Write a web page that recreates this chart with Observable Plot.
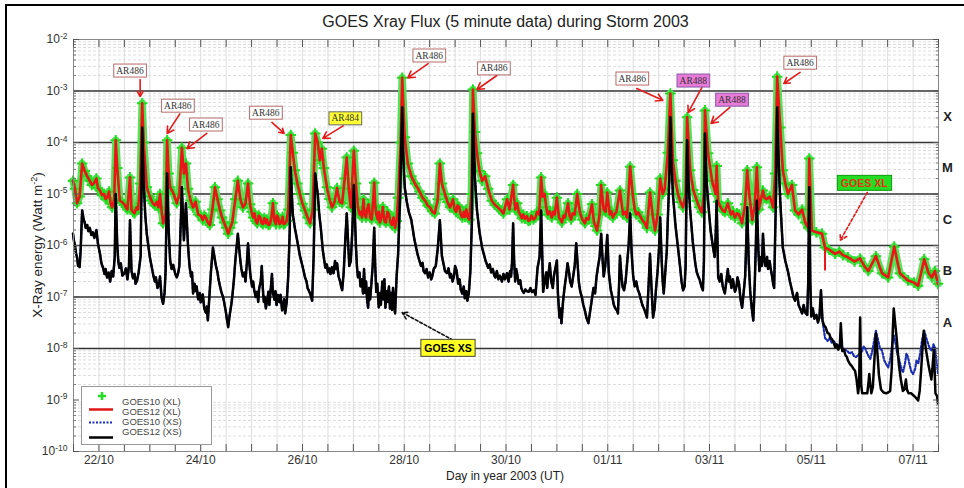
<!DOCTYPE html>
<html><head><meta charset="utf-8">
<script src="https://cdn.jsdelivr.net/npm/d3@7"></script>
<script src="https://cdn.jsdelivr.net/npm/@observablehq/plot@0.6"></script>
<style>
body{margin:0;background:#fff;font-family:"Liberation Sans",Arial,sans-serif;}
#wrap{position:relative;width:964px;height:488px;overflow:hidden;}
#outer{position:absolute;left:5px;top:4px;width:1000px;height:600px;border-left:2px solid #000;border-top:2px solid #000;pointer-events:none;}
#title{height:22px;padding-top:12px;line-height:20px;margin-left:73px;width:865px;text-align:center;font-size:16px;color:#222;}
#ylabel{position:absolute;left:37px;top:245px;transform:translate(-50%,-50%) rotate(-90deg);white-space:nowrap;font-size:13.5px;color:#222;}
#ylabel sup{font-size:9px;}
#xlabel{position:absolute;left:505px;top:476px;transform:translate(-50%,-50%);white-space:nowrap;font-size:12px;color:#222;font-family:"Liberation Sans Narrow","Liberation Sans",Arial,sans-serif;}
#legend{position:absolute;left:81px;top:386px;width:129px;height:57px;border:1px solid #999;background:#fff;}
#legend text{font-family:"Liberation Sans Narrow","Liberation Sans",Arial,sans-serif;font-size:9.5px;fill:#444;}
</style></head>
<body>
<div id="wrap">
  <div id="outer"></div>
  <div id="title">GOES Xray Flux (5 minute data) during Storm 2003</div>
  <div id="chart"></div>
  <div id="ylabel">X-Ray energy (Watt m<sup>-2</sup>)</div>
  <div id="xlabel">Day in year 2003 (UT)</div>
  <div id="legend"><svg width="129" height="57">
    <path d="M20,5v8M16,9h8" stroke="#22dd22" stroke-width="2.5"/>
    <line x1="7" x2="31" y1="22.5" y2="22.5" stroke="#e11616" stroke-width="2.5"/>
    <line x1="7" x2="31" y1="35.5" y2="35.5" stroke="#1a2db0" stroke-width="2" stroke-dasharray="2,1.5"/>
    <line x1="7" x2="31" y1="50.5" y2="50.5" stroke="#000" stroke-width="2.5"/>
    <text x="40" y="18">GOES10 (XL)</text>
    <text x="40" y="28">GOES12 (XL)</text>
    <text x="40" y="38">GOES10 (XS)</text>
    <text x="40" y="48">GOES12 (XS)</text>
  </svg></div>
</div>
<script>
// ---- data: [day of Oct 2003 (Nov = 32+), flux W/m^2] ----
const goesXL = [[21.49,1.8e-5],[21.53,1.26e-5],[21.57,6.6e-6],[21.62,8.9e-6],[21.67,3.9e-5],[21.72,2.8e-5],[21.77,2.2e-5],[21.82,1.8e-5],[21.86,1.5e-5],[21.90,1.6e-5],[21.95,2.0e-5],[21.98,1.3e-5],[22.02,1.17e-5],[22.06,9.5e-6],[22.10,1.0e-5],[22.13,8.0e-6],[22.16,8.5e-6],[22.20,1.12e-5],[22.23,6.5e-6],[22.26,5.5e-6],[22.30,7.9e-6],[22.33,1.1e-4],[22.36,3.2e-5],[22.41,7.4e-6],[22.45,7.0e-6],[22.50,6.3e-6],[22.53,5.5e-6],[22.56,5.0e-6],[22.61,2.1e-5],[22.64,5.0e-6],[22.67,4.5e-6],[22.70,4.2e-6],[22.74,5.5e-6],[22.77,5.0e-6],[22.81,1.6e-5],[22.85,5.8e-4],[22.88,1.0e-4],[22.94,1.35e-5],[23.00,8.9e-6],[23.03,7.5e-6],[23.06,6.6e-6],[23.10,6.0e-6],[23.14,7.0e-6],[23.17,5.5e-6],[23.20,1.0e-5],[23.23,5.0e-6],[23.26,2.7e-6],[23.31,4.0e-6],[23.34,1.1e-4],[23.37,2.5e-5],[23.40,1.35e-5],[23.47,1.0e-5],[23.53,6.6e-6],[23.58,1.0e-5],[23.63,7.9e-5],[23.67,2.5e-5],[23.71,3.9e-5],[23.75,1.26e-5],[23.80,7.5e-6],[23.85,5.5e-6],[23.90,7.1e-6],[23.95,4.0e-6],[24.00,3.8e-6],[24.04,3.1e-6],[24.07,3.8e-6],[24.10,3.5e-6],[24.14,2.8e-6],[24.18,2.5e-6],[24.23,5.0e-6],[24.28,1.35e-5],[24.33,7.9e-6],[24.38,4.8e-6],[24.42,3.5e-6],[24.46,2.8e-6],[24.50,2.2e-6],[24.54,1.7e-6],[24.58,2.2e-6],[24.62,2.8e-6],[24.68,7.9e-6],[24.73,1.8e-5],[24.78,7.9e-6],[24.83,5.5e-6],[24.88,6.5e-6],[24.93,1.6e-5],[24.97,6.3e-6],[25.00,4.5e-6],[25.03,3.5e-6],[25.06,4.2e-6],[25.08,3.0e-6],[25.11,2.7e-6],[25.14,3.8e-6],[25.17,3.5e-6],[25.19,2.8e-6],[25.22,2.6e-6],[25.25,3.4e-6],[25.28,2.7e-6],[25.30,3.2e-6],[25.33,2.5e-6],[25.36,2.6e-6],[25.39,3.5e-6],[25.42,6.6e-6],[25.45,3.0e-6],[25.48,2.6e-6],[25.50,3.8e-6],[25.52,3.5e-6],[25.55,2.6e-6],[25.58,2.8e-6],[25.61,3.6e-6],[25.63,2.6e-6],[25.66,2.7e-6],[25.69,3.0e-6],[25.72,5.0e-6],[25.77,1.4e-4],[25.81,6.3e-5],[25.85,2.9e-5],[25.90,1.6e-5],[25.95,1.0e-5],[26.00,6.5e-6],[26.05,4.8e-6],[26.10,3.5e-6],[26.15,2.7e-6],[26.20,5.0e-6],[26.25,1.5e-4],[26.30,1.0e-4],[26.34,4.5e-5],[26.38,7.6e-5],[26.42,3.2e-5],[26.48,1.35e-5],[26.53,8.0e-6],[26.58,5.5e-6],[26.63,7.0e-6],[26.68,1.3e-5],[26.73,7.1e-6],[26.78,6.6e-6],[26.83,2.0e-5],[26.87,5.1e-5],[26.91,1.26e-5],[26.95,5.5e-6],[27.01,6.9e-5],[27.05,1.6e-5],[27.09,5.5e-6],[27.12,4.0e-6],[27.15,4.5e-6],[27.17,3.5e-6],[27.20,7.9e-6],[27.22,4.0e-6],[27.25,3.5e-6],[27.27,5.0e-6],[27.30,6.3e-6],[27.33,3.5e-6],[27.36,3.2e-6],[27.38,5.5e-6],[27.41,1.66e-5],[27.43,6.0e-6],[27.45,4.0e-6],[27.48,3.2e-6],[27.50,4.5e-6],[27.52,2.8e-6],[27.55,3.5e-6],[27.58,5.6e-6],[27.61,3.0e-6],[27.64,2.8e-6],[27.67,4.5e-6],[27.70,4.0e-6],[27.73,2.8e-6],[27.76,2.5e-6],[27.79,3.5e-6],[27.82,2.2e-6],[27.85,3.0e-6],[27.88,8.5e-6],[27.93,1.0e-4],[27.96,1.8e-3],[28.01,1.26e-4],[28.07,3.9e-5],[28.14,2.2e-5],[28.21,1.6e-5],[28.30,1.12e-5],[28.36,8.5e-6],[28.41,7.4e-6],[28.46,6.0e-6],[28.50,5.6e-6],[28.55,4.6e-6],[28.60,4.2e-6],[28.66,7.9e-6],[28.70,3.9e-5],[28.74,1.6e-5],[28.80,1.0e-5],[28.85,7.0e-6],[28.90,5.5e-6],[28.93,6.5e-6],[28.96,7.9e-6],[28.99,5.0e-6],[29.02,4.5e-6],[29.05,6.0e-6],[29.08,5.6e-6],[29.11,4.0e-6],[29.14,3.5e-6],[29.17,4.5e-6],[29.19,3.6e-6],[29.22,5.0e-6],[29.25,3.5e-6],[29.28,3.2e-6],[29.32,1.0e-5],[29.35,1.07e-3],[29.39,1.6e-4],[29.43,6.2e-5],[29.48,2.8e-5],[29.53,1.8e-5],[29.59,2.2e-5],[29.65,1.26e-5],[29.72,7.4e-6],[29.78,6.2e-6],[29.84,5.5e-6],[29.90,4.8e-6],[29.95,4.2e-6],[30.02,7.9e-6],[30.07,5.0e-6],[30.14,1.5e-5],[30.18,5.0e-6],[30.22,6.6e-6],[30.25,4.5e-6],[30.28,4.0e-6],[30.31,3.4e-6],[30.34,4.0e-6],[30.37,3.3e-6],[30.41,3.7e-6],[30.44,3.0e-6],[30.47,3.1e-6],[30.50,3.8e-6],[30.54,3.2e-6],[30.58,3.5e-6],[30.61,4.5e-6],[30.65,4.0e-6],[30.69,2.1e-5],[30.72,8.9e-6],[30.76,1.0e-5],[30.79,5.5e-6],[30.82,4.0e-6],[30.86,4.6e-6],[30.90,3.5e-6],[30.93,4.5e-6],[30.96,4.0e-6],[31.00,8.5e-6],[31.04,3.5e-6],[31.07,3.2e-6],[31.10,2.8e-6],[31.13,3.8e-6],[31.16,3.5e-6],[31.22,6.6e-6],[31.25,3.8e-6],[31.28,3.2e-6],[31.31,4.2e-6],[31.35,4.0e-6],[31.40,1.0e-5],[31.45,4.5e-6],[31.50,3.2e-6],[31.55,2.7e-6],[31.58,3.4e-6],[31.62,3.2e-6],[31.69,6.3e-6],[31.73,2.8e-6],[31.76,2.4e-6],[31.79,1.95e-6],[31.84,4.0e-6],[31.87,1.5e-5],[31.92,5.0e-6],[31.96,4.5e-6],[31.99,1.07e-5],[32.04,4.0e-6],[32.07,4.6e-6],[32.10,3.5e-6],[32.13,4.0e-6],[32.17,4.5e-6],[32.24,1.17e-5],[32.30,4.0e-6],[32.34,4.5e-6],[32.38,3.5e-6],[32.44,3.4e-5],[32.49,1.0e-5],[32.53,5.0e-6],[32.56,4.0e-6],[32.60,4.4e-6],[32.65,3.5e-6],[32.69,3.0e-6],[32.72,2.8e-6],[32.77,2.2e-6],[32.83,1.07e-5],[32.88,4.0e-6],[32.93,1.95e-6],[32.98,4.0e-6],[33.03,2.0e-5],[33.08,1.0e-5],[33.12,1.26e-5],[33.18,6.3e-5],[33.23,8.9e-4],[33.28,4.5e-5],[33.33,1.8e-5],[33.38,1.0e-5],[33.43,7.0e-6],[33.48,5.5e-6],[33.53,1.0e-5],[33.56,3.1e-4],[33.62,2.9e-5],[33.68,1.2e-5],[33.75,7.4e-6],[33.80,5.5e-6],[33.85,4.4e-6],[33.89,1.0e-5],[33.91,4.2e-4],[33.97,6.2e-5],[34.05,1.8e-5],[34.12,1.0e-5],[34.14,3.5e-5],[34.17,7.1e-6],[34.22,5.5e-6],[34.26,4.8e-6],[34.30,4.5e-6],[34.36,6.6e-6],[34.42,4.0e-6],[34.46,4.6e-6],[34.50,3.5e-6],[34.54,4.2e-6],[34.58,4.0e-6],[34.64,2.7e-6],[34.70,6.3e-6],[34.74,2.9e-5],[34.78,1.0e-5],[34.84,3.1e-6],[34.89,6.3e-6],[34.93,3.3e-5],[34.97,5.0e-6],[35.01,8.0e-6],[35.05,1.17e-5],[35.08,8.5e-6],[35.12,7.9e-6],[35.18,8.9e-6],[35.22,7.0e-6],[35.25,5.5e-6],[35.29,2.5e-5],[35.33,1.9e-3],[35.39,1.95e-4],[35.44,2.9e-5],[35.49,1.6e-5],[35.54,1.0e-5],[35.62,1.5e-5],[35.68,4.8e-6],[35.75,4.0e-6],[35.82,5.0e-6],[35.88,2.8e-6],[35.94,2.2e-6],[35.96,4.9e-5],[36.01,1.95e-6],[36.10,1.8e-6],[36.21,1.7e-6],[36.27,9.1e-7],[36.35,8.3e-7],[36.47,6.9e-7],[36.55,7.6e-7],[36.62,6.5e-7],[36.72,5.9e-7],[36.85,4.9e-7],[36.96,5.6e-7],[37.04,4.0e-7],[37.12,3.2e-7],[37.27,6.2e-7],[37.39,2.9e-7],[37.51,2.4e-7],[37.63,9.5e-7],[37.74,2.9e-7],[37.90,2.1e-7],[38.02,1.9e-7],[38.10,1.65e-7],[38.22,5.4e-7],[38.30,3.0e-7],[38.37,2.4e-7],[38.43,3.2e-7],[38.49,1.8e-7]];

const goes12XLDips = [[36.27,9.1e-7,3.2e-7]];

const goesXS = [[21.49,1.7e-6],[21.51,1.2e-6],[21.53,1.0e-6],[21.55,7.0e-7],[21.57,5.9e-7],[21.59,4.0e-7],[21.60,4.5e-7],[21.62,3.8e-7],[21.64,7.9e-7],[21.67,4.8e-6],[21.70,3.2e-6],[21.72,2.8e-6],[21.74,2.2e-6],[21.77,2.5e-6],[21.79,1.9e-6],[21.82,2.2e-6],[21.85,1.6e-6],[21.88,1.8e-6],[21.91,1.4e-6],[21.95,2.0e-6],[21.98,1.1e-6],[22.02,6.9e-7],[22.05,4.5e-7],[22.08,3.7e-7],[22.11,2.8e-7],[22.13,3.5e-7],[22.16,2.4e-7],[22.19,3.0e-7],[22.22,2.0e-7],[22.25,3.2e-7],[22.28,2.5e-7],[22.31,6.0e-7],[22.33,1.0e-5],[22.36,1.0e-6],[22.38,5.0e-7],[22.40,3.7e-7],[22.43,4.5e-7],[22.46,2.6e-7],[22.50,2.9e-7],[22.53,3.6e-7],[22.56,2.2e-7],[22.59,4.0e-7],[22.61,3.1e-6],[22.64,3.2e-7],[22.67,2.3e-7],[22.70,2.8e-7],[22.72,1.8e-7],[22.75,2.1e-7],[22.78,3.0e-7],[22.82,6.3e-7],[22.85,1.95e-4],[22.88,1.6e-5],[22.91,4.0e-6],[22.94,1.7e-6],[22.97,1.0e-6],[23.00,6.0e-7],[23.04,3.7e-7],[23.07,2.6e-7],[23.10,2.0e-7],[23.12,2.4e-7],[23.15,1.5e-7],[23.18,1.7e-7],[23.20,2.5e-7],[23.23,1.0e-7],[23.26,7.4e-8],[23.29,1.2e-7],[23.31,3.2e-7],[23.34,2.5e-5],[23.37,2.0e-6],[23.40,5.0e-7],[23.43,3.5e-7],[23.46,4.2e-7],[23.50,2.8e-7],[23.53,2.4e-7],[23.56,3.0e-7],[23.58,4.0e-7],[23.63,1.35e-5],[23.67,1.26e-6],[23.71,6.6e-6],[23.75,1.0e-6],[23.78,4.0e-7],[23.81,2.5e-7],[23.83,3.0e-7],[23.85,1.17e-7],[23.88,1.8e-7],[23.90,1.3e-7],[23.92,1.6e-7],[23.95,9.0e-8],[23.98,1.2e-7],[24.00,7.9e-8],[24.02,1.0e-7],[24.04,1.12e-7],[24.07,6.0e-8],[24.10,5.0e-8],[24.12,6.5e-8],[24.14,3.5e-8],[24.17,1.0e-7],[24.20,3.0e-7],[24.24,9.1e-7],[24.27,6.0e-7],[24.30,4.0e-7],[24.33,3.0e-7],[24.35,2.2e-7],[24.38,1.6e-7],[24.41,1.2e-7],[24.44,1.0e-7],[24.46,7.9e-8],[24.49,5.5e-8],[24.51,4.0e-8],[24.54,2.6e-8],[24.57,4.5e-8],[24.60,7.0e-8],[24.62,1.0e-7],[24.65,2.0e-7],[24.68,5.0e-7],[24.73,1.7e-6],[24.76,8.0e-7],[24.78,5.0e-7],[24.80,3.5e-7],[24.83,2.5e-7],[24.86,3.0e-7],[24.88,2.0e-7],[24.91,5.0e-7],[24.93,1.1e-6],[24.96,4.0e-7],[24.98,2.5e-7],[25.01,1.6e-7],[25.03,2.0e-7],[25.05,1.4e-7],[25.08,1.0e-7],[25.11,1.26e-7],[25.13,8.0e-8],[25.15,1.5e-7],[25.18,2.0e-7],[25.20,4.0e-7],[25.22,1.5e-7],[25.24,8.0e-8],[25.26,1.0e-7],[25.28,6.0e-8],[25.31,9.0e-8],[25.33,1.26e-7],[25.35,7.0e-8],[25.38,1.6e-7],[25.40,2.8e-7],[25.42,1.2e-7],[25.45,8.9e-8],[25.47,1.3e-7],[25.49,7.0e-8],[25.52,1.1e-7],[25.55,7.9e-8],[25.57,1.1e-7],[25.60,5.5e-8],[25.62,6.2e-8],[25.64,9.0e-8],[25.66,4.8e-8],[25.69,8.0e-8],[25.72,2.5e-7],[25.75,2.0e-6],[25.77,3.3e-5],[25.79,1.0e-5],[25.81,4.0e-6],[25.85,2.2e-6],[25.90,1.2e-6],[25.95,6.3e-7],[26.00,4.0e-7],[26.05,2.4e-7],[26.08,2.0e-7],[26.10,1.5e-7],[26.13,1.3e-7],[26.15,1.17e-7],[26.19,8.5e-8],[26.22,6.3e-7],[26.25,2.5e-5],[26.30,1.0e-5],[26.33,4.0e-6],[26.36,2.2e-6],[26.40,8.0e-7],[26.43,5.0e-7],[26.45,3.7e-7],[26.48,4.3e-7],[26.50,3.0e-7],[26.53,3.6e-7],[26.55,2.8e-7],[26.58,3.8e-7],[26.61,2.9e-7],[26.64,5.0e-7],[26.66,3.5e-7],[26.68,4.5e-7],[26.71,2.5e-7],[26.74,2.0e-7],[26.76,1.6e-7],[26.78,1.35e-7],[26.81,3.0e-7],[26.84,1.2e-6],[26.87,4.2e-6],[26.90,1.0e-6],[26.92,4.0e-7],[26.95,5.0e-7],[26.98,2.0e-6],[27.01,1.5e-5],[27.05,1.0e-6],[27.07,4.0e-7],[27.09,2.4e-7],[27.12,3.0e-7],[27.14,1.6e-7],[27.17,2.2e-7],[27.19,1.17e-7],[27.21,3.5e-7],[27.23,1.2e-7],[27.25,2.0e-7],[27.27,9.0e-8],[27.29,6.2e-8],[27.31,1.5e-7],[27.33,9.0e-8],[27.35,1.6e-7],[27.38,4.0e-7],[27.41,2.2e-6],[27.43,4.0e-7],[27.45,1.26e-7],[27.47,1.8e-7],[27.50,6.3e-8],[27.52,1.2e-7],[27.54,7.0e-8],[27.57,2.0e-7],[27.59,9.0e-8],[27.61,2.2e-7],[27.63,6.2e-8],[27.65,1.3e-7],[27.67,8.0e-8],[27.70,1.6e-7],[27.72,6.0e-8],[27.74,1.2e-7],[27.76,5.6e-8],[27.78,1.5e-7],[27.80,7.0e-8],[27.82,4.8e-8],[27.85,2.5e-7],[27.88,6.9e-7],[27.92,1.0e-5],[27.96,4.8e-4],[27.98,6.0e-5],[28.01,1.35e-5],[28.05,7.0e-6],[28.09,4.5e-6],[28.14,3.1e-6],[28.20,1.3e-6],[28.26,6.9e-7],[28.30,5.0e-7],[28.33,4.0e-7],[28.36,4.6e-7],[28.38,3.2e-7],[28.41,2.9e-7],[28.44,3.5e-7],[28.47,2.4e-7],[28.50,3.0e-7],[28.53,2.2e-7],[28.55,2.5e-7],[28.58,3.5e-7],[28.62,4.0e-7],[28.66,9.0e-7],[28.70,3.1e-6],[28.74,6.3e-7],[28.77,4.5e-7],[28.80,3.2e-7],[28.84,2.9e-7],[28.87,3.6e-7],[28.90,2.4e-7],[28.92,2.8e-7],[28.95,2.0e-7],[28.98,2.6e-7],[29.00,4.0e-7],[29.03,3.2e-7],[29.06,1.8e-7],[29.09,2.2e-7],[29.11,1.4e-7],[29.14,1.17e-7],[29.17,1.6e-7],[29.19,9.5e-8],[29.22,1.3e-7],[29.24,8.5e-8],[29.27,1.2e-7],[29.30,3.2e-7],[29.33,3.0e-6],[29.35,3.6e-4],[29.37,8.0e-5],[29.39,2.0e-5],[29.43,4.8e-6],[29.48,1.8e-6],[29.53,9.1e-7],[29.57,6.5e-7],[29.60,5.0e-7],[29.65,3.7e-7],[29.68,4.3e-7],[29.71,3.0e-7],[29.74,3.5e-7],[29.77,2.6e-7],[29.79,2.4e-7],[29.82,3.2e-7],[29.85,2.2e-7],[29.88,2.6e-7],[29.92,2.0e-7],[29.95,2.8e-7],[29.98,2.2e-7],[30.02,2.9e-7],[30.05,2.0e-7],[30.08,3.2e-7],[30.10,2.5e-7],[30.12,5.0e-7],[30.14,2.7e-6],[30.16,5.0e-7],[30.18,2.0e-7],[30.20,3.5e-7],[30.22,2.8e-7],[30.25,1.8e-7],[30.28,2.1e-7],[30.30,1.5e-7],[30.32,1.35e-7],[30.35,1.2e-7],[30.38,1.4e-7],[30.41,1.3e-7],[30.45,1.26e-7],[30.48,1.5e-7],[30.51,1.25e-7],[30.55,1.35e-7],[30.58,1.1e-7],[30.60,2.0e-7],[30.62,3.7e-7],[30.66,6.0e-7],[30.69,4.8e-6],[30.71,8.0e-7],[30.73,1.26e-7],[30.76,2.0e-7],[30.79,3.0e-7],[30.81,1.5e-7],[30.83,2.5e-7],[30.86,4.5e-7],[30.89,2.0e-7],[30.92,1.5e-7],[30.94,2.5e-7],[30.96,3.2e-7],[31.00,5.1e-7],[31.02,1.2e-7],[31.05,4.0e-8],[31.07,6.0e-8],[31.09,3.1e-8],[31.12,8.0e-8],[31.15,1.5e-7],[31.18,2.5e-7],[31.21,4.5e-7],[31.24,3.0e-7],[31.26,2.0e-7],[31.29,1.6e-7],[31.32,2.5e-7],[31.35,4.0e-7],[31.38,1.1e-6],[31.41,4.0e-7],[31.43,2.0e-7],[31.46,1.26e-7],[31.49,1.0e-7],[31.52,7.0e-8],[31.55,5.5e-8],[31.58,4.0e-8],[31.62,3.1e-8],[31.65,5.0e-8],[31.68,8.0e-8],[31.72,1.5e-7],[31.75,1.17e-7],[31.78,2.5e-7],[31.81,4.0e-7],[31.84,6.0e-7],[31.87,1.7e-6],[31.90,5.0e-7],[31.92,2.5e-7],[31.95,4.0e-7],[31.99,1.6e-6],[32.02,3.0e-7],[32.04,2.0e-7],[32.06,1.35e-7],[32.09,1.0e-7],[32.12,7.0e-8],[32.15,6.0e-8],[32.18,5.5e-8],[32.20,4.8e-8],[32.22,1.5e-7],[32.24,6.3e-7],[32.27,2.5e-7],[32.29,1.6e-7],[32.32,1.35e-7],[32.35,2.0e-7],[32.38,4.5e-7],[32.41,1.0e-6],[32.44,4.2e-6],[32.47,7.0e-7],[32.50,2.5e-7],[32.53,1.6e-7],[32.56,2.0e-7],[32.59,1.4e-7],[32.62,1.17e-7],[32.65,9.0e-8],[32.68,7.0e-8],[32.71,6.0e-8],[32.74,5.0e-8],[32.77,4.0e-8],[32.80,1.5e-7],[32.83,6.9e-7],[32.86,1.5e-7],[32.89,4.0e-8],[32.92,6.0e-8],[32.95,1.5e-7],[32.98,3.2e-7],[33.01,1.0e-6],[33.03,3.5e-6],[33.06,5.0e-7],[33.08,2.0e-7],[33.10,1.17e-7],[33.13,3.0e-7],[33.16,8.0e-7],[33.18,3.2e-6],[33.21,2.0e-5],[33.23,3.1e-4],[33.25,5.0e-5],[33.28,1.0e-5],[33.33,2.5e-6],[33.38,9.1e-7],[33.42,4.0e-7],[33.45,2.0e-7],[33.48,1.35e-7],[33.51,1.6e-7],[33.53,4.0e-7],[33.56,1.1e-4],[33.59,1.5e-5],[33.62,4.8e-6],[33.67,1.2e-6],[33.72,4.5e-7],[33.75,3.0e-7],[33.78,2.5e-7],[33.81,2.1e-7],[33.84,1.6e-7],[33.87,1.35e-7],[33.89,5.0e-7],[33.91,1.5e-4],[33.94,2.0e-5],[33.97,7.4e-6],[34.02,2.0e-6],[34.07,9.1e-7],[34.10,6.0e-7],[34.12,1.5e-6],[34.14,7.4e-6],[34.17,2.4e-7],[34.20,2.0e-7],[34.23,2.8e-7],[34.26,1.6e-7],[34.30,1.17e-7],[34.33,2.0e-7],[34.36,3.5e-7],[34.38,2.0e-7],[34.40,2.5e-7],[34.43,1.5e-7],[34.46,2.2e-7],[34.50,1.26e-7],[34.53,1.6e-7],[34.55,2.4e-7],[34.58,1.8e-7],[34.61,9.0e-8],[34.64,6.2e-8],[34.67,1.2e-7],[34.70,2.5e-7],[34.72,1.0e-6],[34.74,5.5e-6],[34.77,5.0e-7],[34.80,1.26e-7],[34.83,6.0e-8],[34.86,3.5e-8],[34.89,2.0e-7],[34.91,1.0e-6],[34.93,7.4e-6],[34.96,8.0e-7],[34.98,3.2e-7],[35.01,6.0e-7],[35.03,4.0e-7],[35.05,1.7e-6],[35.08,5.0e-7],[35.10,4.0e-7],[35.13,6.0e-7],[35.15,3.5e-7],[35.18,5.0e-7],[35.20,3.7e-7],[35.23,2.5e-7],[35.25,1.8e-7],[35.27,1.5e-7],[35.30,5.0e-6],[35.33,4.8e-4],[35.36,4.0e-5],[35.39,7.4e-6],[35.44,9.1e-7],[35.49,5.0e-7],[35.54,3.2e-7],[35.58,2.0e-7],[35.62,1.35e-7],[35.65,1.0e-7],[35.68,8.5e-8],[35.72,1.2e-7],[35.75,7.0e-8],[35.78,6.0e-8],[35.82,4.8e-8],[35.85,7.0e-8],[35.88,5.0e-8],[35.92,4.5e-8],[35.94,2.0e-7],[35.96,1.35e-5],[35.98,2.0e-7],[36.00,4.2e-8],[36.03,6.0e-8],[36.06,3.8e-8],[36.10,4.5e-8],[36.13,3.2e-8],[36.16,4.0e-8],[36.19,1.35e-7],[36.22,3.5e-8],[36.25,2.8e-8],[36.28,2.6e-8],[36.32,2.0e-8],[36.35,1.95e-8],[36.38,1.6e-8],[36.41,1.5e-8],[36.44,1.3e-8],[36.47,1.05e-8],[36.50,1.2e-8],[36.53,9.5e-9],[36.56,1.1e-8],[36.58,3.1e-8],[36.61,8.9e-9],[36.64,9.5e-9],[36.67,7.5e-9],[36.70,6.8e-9],[36.72,5.9e-9],[36.76,5.0e-9],[36.80,4.5e-9],[36.83,4.0e-9],[36.86,3.7e-9],[36.89,2.5e-9],[36.92,1.35e-9],[36.94,2.0e-9],[36.96,4.0e-8],[36.98,2.0e-9],[37.00,1.35e-9],[37.05,1.35e-9],[37.10,1.35e-9],[37.12,2.0e-9],[37.14,3.2e-9],[37.16,2.0e-9],[37.18,1.35e-9],[37.21,1.8e-9],[37.24,6.0e-9],[37.27,1.95e-8],[37.30,8.0e-9],[37.33,3.0e-9],[37.37,1.6e-9],[37.42,1.4e-9],[37.47,1.35e-9],[37.51,1.4e-9],[37.55,1.5e-9],[37.58,4.0e-9],[37.60,2.0e-8],[37.62,6.0e-8],[37.65,3.0e-8],[37.68,1.5e-8],[37.72,5.0e-9],[37.76,2.5e-9],[37.80,1.5e-9],[37.83,1.6e-9],[37.86,2.5e-9],[37.88,1.6e-9],[37.91,1.35e-9],[37.96,1.35e-9],[38.00,1.25e-9],[38.05,1.12e-9],[38.10,9.8e-10],[38.13,1.5e-9],[38.16,4.0e-9],[38.19,1.2e-8],[38.21,2.2e-8],[38.25,1.0e-8],[38.30,5.0e-9],[38.33,3.5e-9],[38.36,2.5e-9],[38.38,4.0e-9],[38.41,1.0e-8],[38.44,1.35e-9],[38.47,1.2e-9],[38.49,8.5e-10]];

const goes10XSTail = [[36.22,3.5e-8],[36.27,1.6e-8],[36.32,1.4e-8],[36.36,1.6e-8],[36.40,1.3e-8],[36.44,1.4e-8],[36.47,1.26e-8],[36.52,1.1e-8],[36.56,1.2e-8],[36.60,1.05e-8],[36.65,9.5e-9],[36.70,9.1e-9],[36.75,8.0e-9],[36.80,8.5e-9],[36.84,7.1e-9],[36.88,6.8e-9],[36.92,7.5e-9],[36.96,7.9e-9],[37.00,9.0e-9],[37.03,1.1e-8],[37.06,1.0e-8],[37.10,8.0e-9],[37.13,7.0e-9],[37.16,6.3e-9],[37.20,9.0e-9],[37.24,1.5e-8],[37.27,2.2e-8],[37.31,1.5e-8],[37.35,1.0e-8],[37.39,9.1e-9],[37.43,6.0e-9],[37.47,5.0e-9],[37.51,4.3e-9],[37.55,6.0e-9],[37.59,1.2e-8],[37.62,1.8e-8],[37.66,1.2e-8],[37.69,8.0e-9],[37.72,6.5e-9],[37.76,4.5e-9],[37.80,3.4e-9],[37.84,5.0e-9],[37.87,8.0e-9],[37.90,6.8e-9],[37.94,4.5e-9],[37.97,3.5e-9],[38.00,3.2e-9],[38.04,4.0e-9],[38.07,6.0e-9],[38.10,5.0e-9],[38.14,8.0e-9],[38.18,1.5e-8],[38.22,2.2e-8],[38.26,1.6e-8],[38.30,1.2e-8],[38.33,1.0e-8],[38.37,9.1e-9],[38.40,1.2e-8],[38.43,1.05e-8],[38.46,6.0e-9],[38.49,3.2e-9]];

const classNames = ["X","M","C","B","A"];
const classMid = [3.2e-4,3.2e-5,3.2e-6,3.2e-7,3.2e-8];
const dateLabelDays = [22,24,26,28,30,32,34,36,38];

const annLabels = ["AR486","AR486","AR486","AR486","AR484","AR486","AR486","AR486","AR488","AR488","AR486"];
const annAt = [[22.61,2.5e-3],[23.55,5.2e-4],[24.10,2.24e-4],[25.28,3.8e-4],[26.84,2.95e-4],[28.49,4.9e-3],[29.76,2.75e-3],[32.48,1.75e-3],[33.68,1.6e-3],[34.44,6.8e-4],[35.78,3.55e-3]];
const annArrows = [[22.81,1.66e-3,22.81,7.8e-4],[23.59,3.6e-4,23.34,1.5e-4],[24.12,1.5e-4,23.73,7.6e-5],[25.40,2.45e-4,25.64,1.5e-4],[26.80,2.1e-4,26.40,1.2e-4],[28.47,3.4e-3,28.07,1.8e-3],[29.82,2.0e-3,29.43,1.07e-3],[32.57,1.12e-3,33.08,6.6e-4],[33.85,1.17e-3,33.58,3.8e-4],[34.40,4.8e-4,34.03,2.35e-4],[35.78,2.3e-3,35.46,1.4e-3]];

const calloutLabels = ["GOES XL","GOES XS"];
const calloutAt = [[37.04,1.6e-5],[28.86,1.0e-8]];
const calloutArrows = [[37.10,1.07e-5,36.57,1.26e-6],[28.96,1.45e-8,27.96,5.0e-8]];

// ---- build ----
const DAY0 = Date.UTC(2003, 9, 1);
const toDate = d => new Date(DAY0 + (d - 1) * 864e5);
const rows = arr => arr.map(([d, f]) => ({t: toDate(d), f}));
const xl = rows(goesXL);
const xs12 = rows(goesXS);
const xs10 = rows(goesXS.filter(([d]) => d < 36.2).concat(goes10XSTail));
const dips = goes12XLDips.map(([d, a, b]) => ({t: toDate(d), a, b}));

const minorY = [];
for (let k = -10; k < -2; k++) for (let m = 2; m < 10; m++) minorY.push(m * 10 ** k);
const majorY = d3.range(-10, -1).map(k => 10 ** k);
const bandLines = [1e-3, 1e-4, 1e-5, 1e-6, 1e-7, 1e-8];
const halfDays = d3.range(0, 35).map(i => toDate(21.5 + i * 0.5));
const labelDates = dateLabelDays.map(toDate);

const annRows = annLabels.map((label, i) => ({label, t: toDate(annAt[i][0]), f: annAt[i][1]}));
const arrowRows = annArrows.map(([a, b, c, d]) => ({t1: toDate(a), f1: b, t2: toDate(c), f2: d}));
const callRows = calloutLabels.map((label, i) => ({label, t: toDate(calloutAt[i][0]), f: calloutAt[i][1]}));
const callArrowRows = calloutArrows.map(([a, b, c, d]) => ({t1: toDate(a), f1: b, t2: toDate(c), f2: d}));

const serif = "'Liberation Serif','Times New Roman',serif";
const narrow = "'Liberation Sans Narrow','Liberation Sans',Arial,sans-serif";

const svg = Plot.plot({
  width: 964, height: 454,
  marginLeft: 73, marginRight: 26, marginTop: 5, marginBottom: 37,
  x: {type: "utc", domain: [toDate(21.5), toDate(38.5)]},
  y: {type: "log", domain: [1e-10, 1e-2]},
  style: {fontFamily: "'Liberation Sans',Arial,sans-serif", fontSize: "12px", color: "#333", background: "transparent", overflow: "visible"},
  marks: [
    Plot.ruleY(minorY, {stroke: "#cfcfcf", strokeWidth: 0.7, strokeDasharray: "3,2"}),
    Plot.ruleX(halfDays, {stroke: "#d6d6d6", strokeWidth: 0.8}),
    Plot.ruleY(bandLines, {stroke: "#333", strokeWidth: 1.6}),
    Plot.line(xl, {x: "t", y: "f", stroke: "#55e055", strokeWidth: 7.5, strokeLinejoin: "round"}),
    Plot.dot(xl, {x: "t", y: "f", symbol: "plus", r: 3.5, stroke: "#22dd22", strokeWidth: 2}),
    Plot.line(xl, {x: "t", y: "f", stroke: "#e81616", strokeWidth: 2.6}),
    Plot.ruleX(dips, {x: "t", y1: "a", y2: "b", stroke: "#e81616", strokeWidth: 2}),
    Plot.line(xs10, {x: "t", y: "f", stroke: "#1a2db0", strokeWidth: 2.2, strokeDasharray: "2,2"}),
    Plot.line(xs12, {x: "t", y: "f", stroke: "#000", strokeWidth: 2.5}),
    Plot.frame({stroke: "#888"}),
    Plot.axisY(majorY, {anchor: "left", tickSize: 0, tickPadding: 6, label: null, fill: "#333", fontSize: 12,
      tickFormat: d => "10|" + Math.round(Math.log10(d))}),
    Plot.axisY(minorY, {anchor: "left", tickSize: -3, fill: "none", label: null, stroke: "#777"}),
    Plot.axisY(minorY, {anchor: "right", tickSize: -3, fill: "none", label: null, stroke: "#777"}),
    Plot.axisY(majorY, {anchor: "left", tickSize: -6, fill: "none", label: null, stroke: "#555"}),
    Plot.axisY(majorY, {anchor: "right", tickSize: -6, fill: "none", label: null, stroke: "#555"}),
    Plot.axisX(halfDays, {anchor: "bottom", tickSize: -7, fill: "none", label: null, stroke: "#555"}),
    Plot.axisX(halfDays, {anchor: "top", tickSize: -7, fill: "none", label: null, stroke: "#555"}),
    Plot.axisX(labelDates, {anchor: "bottom", tickSize: 0, tickPadding: 4, label: null, fill: "#333",
      fontFamily: narrow, fontSize: 12, tickFormat: d3.utcFormat("%d/%m")}),
    Plot.text(classNames, {y: (d, i) => classMid[i], text: d => d, frameAnchor: "right", dx: 9,
      textAnchor: "middle", fontWeight: "bold", fontSize: 13, fill: "#222"}),
    Plot.arrow(arrowRows, {x1: "t1", y1: "f1", x2: "t2", y2: "f2", stroke: "#e31b1b", strokeWidth: 1.6, headLength: 7}),
    Plot.arrow(callArrowRows.slice(0, 1), {x1: "t1", y1: "f1", x2: "t2", y2: "f2", stroke: "#e31b1b", strokeWidth: 1.6, headLength: 7, strokeDasharray: "3,2"}),
    Plot.arrow(callArrowRows.slice(1), {x1: "t1", y1: "f1", x2: "t2", y2: "f2", stroke: "#111", strokeWidth: 1.6, headLength: 7, strokeDasharray: "3,2"}),
    Plot.text(annRows.filter(d => d.label === "AR486"), {x: "t", y: "f", text: "label", fontFamily: serif, fontSize: 9.5, fill: "#333", ariaDescription: "ann-white"}),
    Plot.text(annRows.filter(d => d.label === "AR484"), {x: "t", y: "f", text: "label", fontFamily: serif, fontSize: 9.5, fill: "#333", ariaDescription: "ann-yellow"}),
    Plot.text(annRows.filter(d => d.label === "AR488"), {x: "t", y: "f", text: "label", fontFamily: serif, fontSize: 9.5, fill: "#333", ariaDescription: "ann-magenta"}),
    Plot.text(callRows.slice(0, 1), {x: "t", y: "f", text: "label", fontWeight: "bold", fontSize: 10.5, fill: "#e8301c", ariaDescription: "call-green"}),
    Plot.text(callRows.slice(1), {x: "t", y: "f", text: "label", fontWeight: "bold", fontSize: 10.5, fill: "#000", ariaDescription: "call-yellow"})
  ]
});
document.getElementById("chart").appendChild(svg);

// superscript exponents on y tick labels
d3.select(svg).selectAll('g[aria-label="y-axis tick label"] text').each(function () {
  const s = this.textContent;
  if (!s.includes("|")) return;
  const [b, e] = s.split("|");
  const t = d3.select(this);
  t.text(b);
  t.append("tspan").attr("dy", "-0.55em").attr("font-size", "8.5px").text(e);
});

// boxes behind annotation texts
function boxify(desc, fill, stroke, px, py) {
  svg.querySelectorAll(`g[aria-description="${desc}"] text`).forEach(t => {
    const bb = t.getBBox();
    const r = document.createElementNS("http://www.w3.org/2000/svg", "rect");
    r.setAttribute("x", bb.x - px);
    r.setAttribute("y", bb.y - py);
    r.setAttribute("width", bb.width + 2 * px);
    r.setAttribute("height", bb.height + 2 * py);
    const tr = t.getAttribute("transform");
    if (tr) r.setAttribute("transform", tr);
    r.setAttribute("fill", fill);
    r.setAttribute("stroke", stroke);
    r.setAttribute("stroke-width", "1");
    t.parentNode.insertBefore(r, t);
  });
}
boxify("ann-white", "#fff", "#b86a6a", 2.5, 1.5);
boxify("ann-yellow", "#ffff33", "#666", 2.5, 1.5);
boxify("ann-magenta", "#e87ad8", "#8a5aa8", 2.5, 1.5);
boxify("call-green", "#22dd22", "#119911", 3.5, 1.5);
boxify("call-yellow", "#ffff22", "#444", 3.5, 2.5);
</script>
</body></html>
